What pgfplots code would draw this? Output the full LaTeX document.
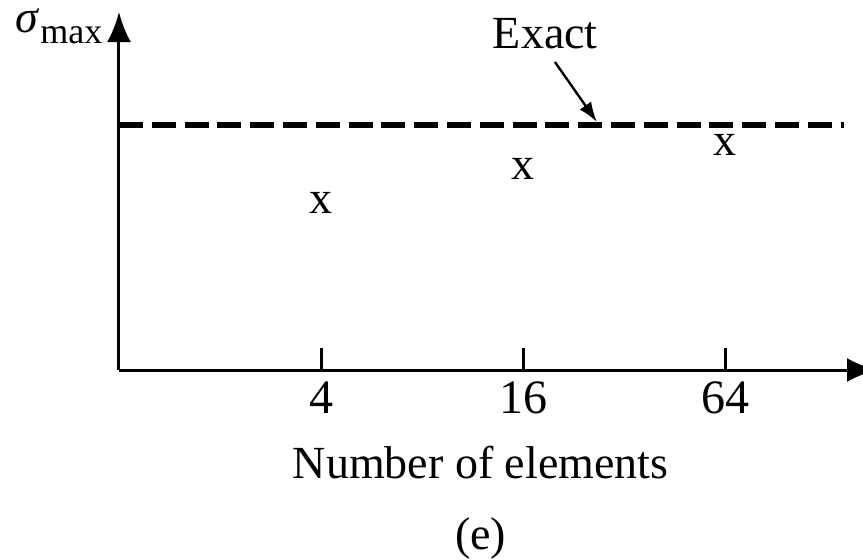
\documentclass[border=0pt]{standalone}
\usepackage{pgfplots}
\pgfplotsset{compat=1.18}
\usetikzlibrary{arrows.meta}
\usepackage{fontspec}
\setmainfont{Liberation Serif}

\begin{document}
\fontsize{11.5}{13.8}\selectfont
\begin{tikzpicture}[x=1pt,y=1pt]
\useasboundingbox (-29.75,-47.25) rectangle (186,92.5);
\begin{axis}[
  at={(0,0)}, anchor=south west,
  scale only axis, width=186pt, height=89.5pt,
  xmin=0, xmax=3.683, ymin=0, ymax=3.58,
  axis lines=left,
  axis line style={line width=0.75pt, -{Latex[length=7.5pt,width=6pt]}},
  x axis line style={shorten >=-3.5pt},
  xtick={1,2,3}, xticklabels={4,16,64},
  ytick=\empty,
  tick align=inside, major tick length=5.5pt,
  tick style={line width=0.75pt, black},
  xticklabel style={font=\fontsize{12}{14}\selectfont, yshift=1pt},
  /pgf/number format/assume math mode=true,
  clip=false,
  xlabel={Number of elements},
  xlabel style={at={(axis description cs:0.486,-0.302)}, anchor=base},
]
% exact solution
\addplot[black, mark=none, line width=1.5pt, dash pattern=on 6pt off 2.2pt]
  coordinates {(0,2.45) (3.59,2.45)};
% finite element results
\addplot[black, only marks, mark=text, text mark={x}, text mark as node=true]
  coordinates {(1,1.67) (2,2.01) (3,2.25)};
\draw[line width=0.6pt, -{Latex[length=5pt,width=3.5pt]}]
  (axis cs:2.158,3.08) -- (axis cs:2.366,2.48);
\node[anchor=base] at (axis description cs:0.573,0.899) {Exact};
\node[anchor=base west, inner sep=0pt] at (axis description cs:-0.140,0.944)
  {{\itshape σ}\kern0.5pt\raisebox{-2.75pt}{\fontsize{9}{11}\selectfont max}};
\node[anchor=base] at (axis description cs:0.486,-0.5) {(e)};
\end{axis}
\end{tikzpicture}
\end{document}
